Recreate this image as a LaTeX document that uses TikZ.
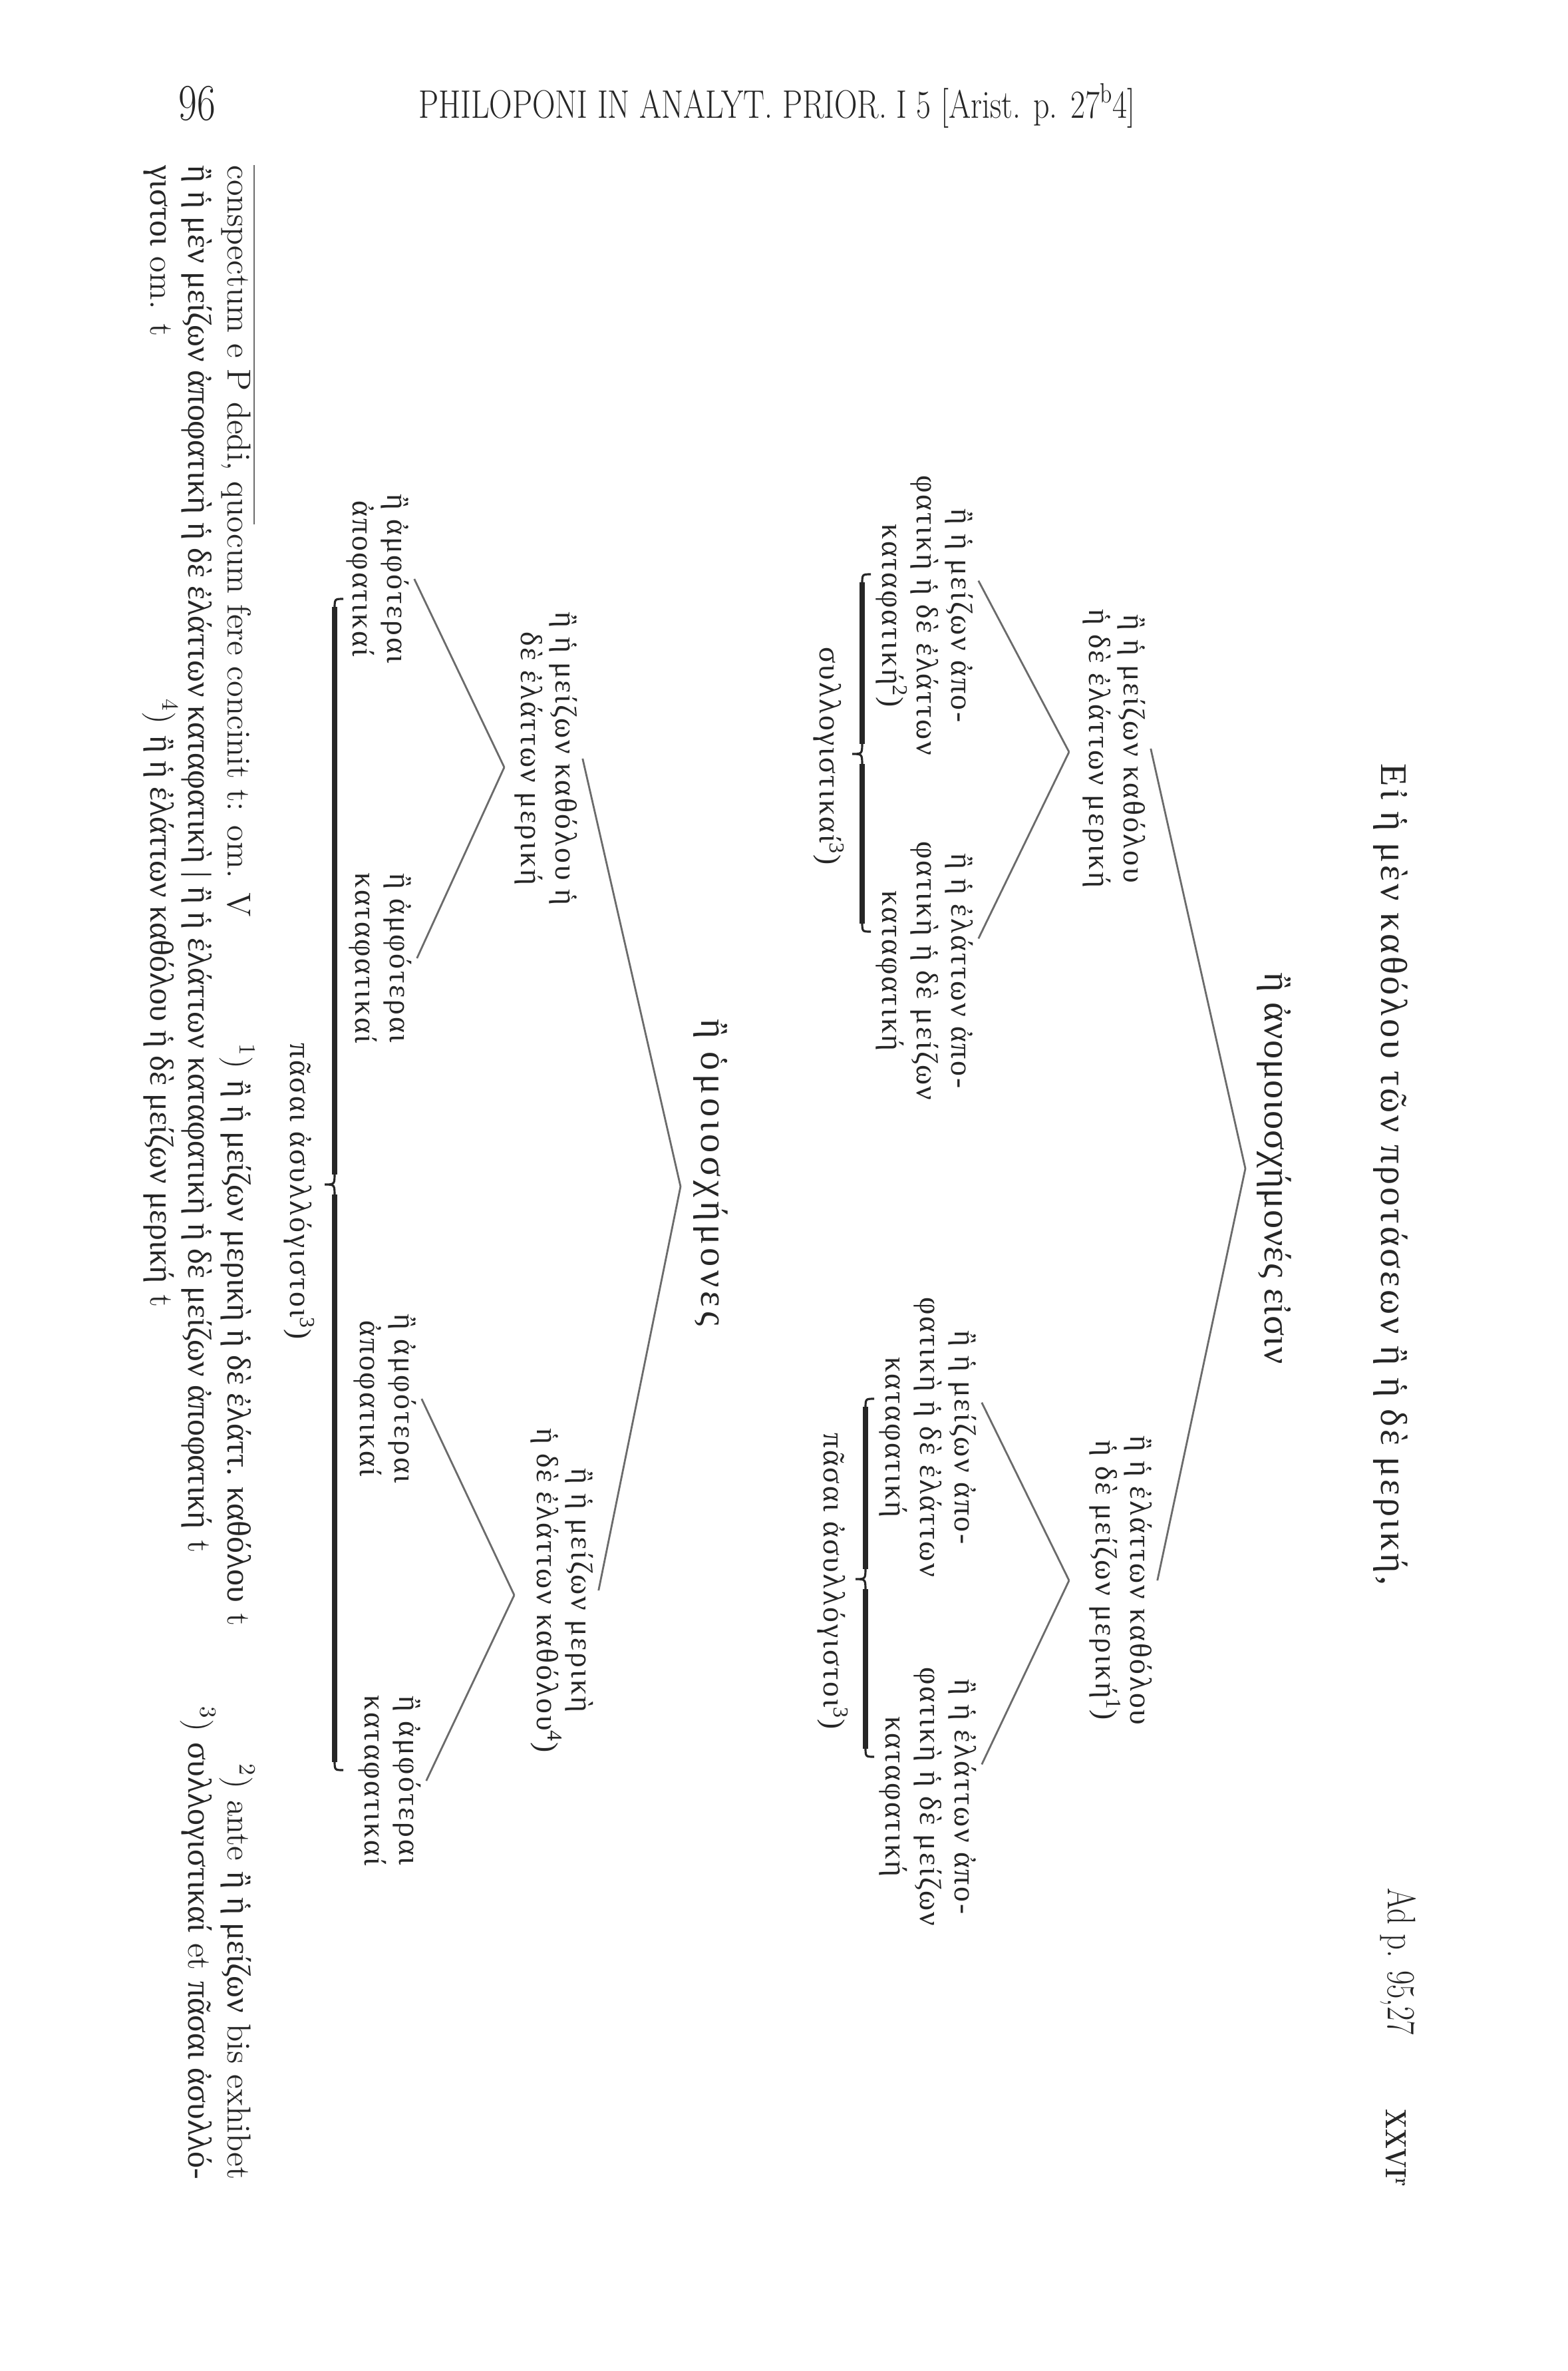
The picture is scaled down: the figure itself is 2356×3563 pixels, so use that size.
\documentclass[tikz,border=0pt]{standalone}
\usepackage{fontspec}
\usetikzlibrary{calc}
\newfontfamily\gr{Liberation Serif}
\newfontfamily\grs{Liberation Serif}[LetterSpace=6]
\newfontfamily\grt{Liberation Serif}[LetterSpace=7]
\newfontfamily\grtb{Liberation Serif}[LetterSpace=2]
\newfontfamily\grh{Liberation Serif}[LetterSpace=10]
\definecolor{ink}{gray}{0.15}
\definecolor{lin}{gray}{0.42}
\tikzset{
  gtxt/.style={rotate=-90, align=center, inner sep=2pt, text=ink,
    font=\grs\fontsize{13}{14.8}\selectfont},
  ttl/.style={rotate=-90, inner sep=2pt, text=ink,
    font=\grt\fontsize{16}{19}\selectfont},
  fn/.style={rotate=-90, inner sep=0pt, text=ink, anchor=base west,
    font=\fontsize{14.2}{16}\selectfont},
  conn/.style={draw=lin, line width=0.8pt},
  bthin/.style={draw=ink, line width=0.9pt},
  bthick/.style={draw=ink, line width=2.5pt},
}
% brace: body x, top y, tip y, bottom y (tip points to smaller x)
\newcommand\mybrace[4]{%
  \draw[bthin] (#1+13,#2) .. controls (#1,#2) .. (#1,#2+15);
  \draw[bthick] (#1,#2+12) -- (#1,#3-15);
  \draw[bthin] (#1,#3-18) .. controls (#1,#3) .. (#1-15,#3) .. controls (#1,#3) .. (#1,#3+18);
  \draw[bthick] (#1,#3+15) -- (#1,#4-12);
  \draw[bthin] (#1,#4-15) .. controls (#1,#4) .. (#1+13,#4);
}
\begin{document}
\begin{tikzpicture}[x=0.01cm, y=-0.01cm]
\fill[white] (0,0) rectangle (2356,3563);
\useasboundingbox (0,0) rectangle (2356,3563);

% header
\node[anchor=base, text=ink, font=\fontsize{22}{26}\selectfont] (pg) at (296,180) {\scalebox{0.78}[1]{96}};
\node[anchor=base, text=ink, font=\fontsize{17}{20}\selectfont] (hd) at (1168,177)
  {\scalebox{0.8}[1]{PHILOPONI IN ANALYT. PRIOR. I 5 [Arist. p. 27\textsuperscript{b}4]}};

% margin notes
\node[rotate=-90, text=ink, font=\fontsize{17}{20}\selectfont] (ad) at (2102,2948) {\scalebox{0.78}[1]{Ad p. 95,27}};
\node[rotate=-90, text=ink, font=\bfseries\fontsize{12.5}{14}\selectfont] (xx) at (2098,3228) {\scalebox{0.8}[1]{XXVI\textsuperscript{r}}};

% title
\node[ttl] (T1) at (2090,1765) {Εἰ ἡ μὲν καθόλου τῶν προτάσεων ἢ ἡ δὲ μερική,};
\node[ttl, font=\grtb\fontsize{16}{19}\selectfont] (T2) at (1915,1756) {ἢ ἀνομοιοσχήμονές εἰσιν};
\coordinate (v0) at (1872,1756);

% anomoioschemones branch
\node[gtxt] (A) at (1675,1125) {ἢ ἡ μείζων καθόλου\\ἡ δὲ ἐλάττων μερική};
\node[gtxt] (B) at (1685,2375) {ἢ ἡ ἐλάττων καθόλου\\ἡ δὲ μείζων μερική\textsuperscript{1})};
\draw[conn] (v0) -- (A.north);
\draw[conn] (v0) -- (B.north);

\coordinate (vA) at (1607,1130);
\node[gtxt] (A1) at (1390,925) {ἢ ἡ μείζων ἀπο-\\φατικὴ ἡ δὲ ἐλάττων\\καταφατική\textsuperscript{2})};
\node[gtxt] (A2) at (1390,1459) {ἢ ἡ ἐλάττων ἀπο-\\φατικὴ ἡ δὲ μείζων\\καταφατική};
\draw[conn] (vA) -- ($(A1.north west)!0.38!(A1.north east)$);
\draw[conn] (vA) -- ($(A2.north west)!0.38!(A2.north east)$);
\mybrace{1296}{863}{1133}{1400}
\node[gtxt] (S1) at (1246,1136) {συλλογιστικαί\textsuperscript{3})};

\coordinate (vB) at (1607,2375);
\node[gtxt] (B1) at (1395,2160) {ἢ ἡ μείζων ἀπο-\\φατικὴ ἡ δὲ ἐλάττων\\καταφατική};
\node[gtxt] (B2) at (1395,2700) {ἢ ἡ ἐλάττων ἀπο-\\φατικὴ ἡ δὲ μείζων\\καταφατική};
\draw[conn] (vB) -- ($(B1.north west)!0.38!(B1.north east)$);
\draw[conn] (vB) -- ($(B2.north west)!0.38!(B2.north east)$);
\mybrace{1301}{2102}{2373}{2640}
\node[gtxt] (P1) at (1252,2376) {πᾶσαι ἀσυλλόγιστοι\textsuperscript{3})};

% homoioschemones branch
\node[ttl, font=\grh\fontsize{16}{19}\selectfont] (H) at (1068,1762) {ἢ ὁμοιοσχήμονες};
\coordinate (vH) at (1023,1783);
\node[gtxt] (C) at (821,1140) {ἢ ἡ μείζων καθόλου ἡ\\δὲ ἐλάττων μερική};
\node[gtxt] (D) at (845,2390) {ἢ ἡ μείζων μερικὴ\\ἡ δὲ ἐλάττων καθόλου\textsuperscript{4})};
\draw[conn] (vH) -- (C.north);
\draw[conn] (vH) -- (D.north);

\coordinate (vC) at (758,1153);
\coordinate (vD) at (773,2397);
\node[gtxt] (C1) at (568,870) {ἢ ἀμφότεραι\\ἀποφατικαί};
\node[gtxt] (C2) at (572,1440) {ἢ ἀμφότεραι\\καταφατικαί};
\node[gtxt] (D1) at (579,2102) {ἢ ἀμφότεραι\\ἀποφατικαί};
\node[gtxt] (D2) at (586,2676) {ἢ ἀμφότεραι\\καταφατικαί};
\draw[conn] (vC) -- (C1.north);
\draw[conn] (vC) -- (C2.north);
\draw[conn] (vD) -- (D1.north);
\draw[conn] (vD) -- (D2.north);
\mybrace{503}{900}{1780}{2660}
\node[gtxt] (P2) at (450,1790) {πᾶσαι ἀσυλλόγιστοι\textsuperscript{3})};

% footnotes
\draw[draw=lin, line width=0.6pt] (382,248) -- (382,788);
\node[fn] (F1a) at (342,248) {conspectum e P dedi, quocum fere concinit t: om. V};
\node[fn] (F1b) at (342,1568) {\textsuperscript{1}) {\gr ἢ ἡ μείζων μερικὴ ἡ δὲ ἐλάττ. καθόλου} t};
\node[fn, anchor=base east] (F1c) at (342,3276) {\textsuperscript{2}) ante {\gr ἢ ἡ μείζων} bis exhibet};
\node[fn] (F2a) at (283,248) {{\gr ἢ ἡ μὲν μείζων ἀποφατικὴ ἡ δὲ ἐλάττων καταφατικὴ \textbar{} ἢ ἡ ἐλάττων καταφατικὴ ἡ δὲ μείζων ἀποφατική} t};
\node[fn, anchor=base east] (F2b) at (283,3276) {\textsuperscript{3}) {\gr συλλογιστικαί} et {\gr πᾶσαι ἀσυλλό-}};
\node[fn] (F3a) at (226,248) {{\gr γιστοι} om. t};
\node[fn] (F3b) at (226,1050) {\textsuperscript{4}) {\gr ἢ ἡ ἐλάττων καθόλου ἡ δὲ μείζων μερική} t};
\end{tikzpicture}
\end{document}
